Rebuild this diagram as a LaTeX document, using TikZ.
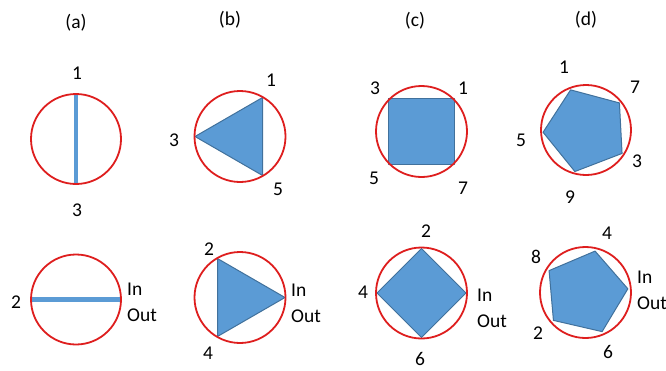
\documentclass[tikz,border=0pt]{standalone}
\usepackage{fontspec}
\setmainfont{Carlito}
\definecolor{cred}{RGB}{222,30,30}
\definecolor{cblue}{RGB}{91,155,213}
\definecolor{cedge}{RGB}{65,113,156}
\begin{document}
\begin{tikzpicture}[x=1pt,y=-1pt,
  ring/.style={draw=cred,line width=1.8pt},
  poly/.style={fill=cblue,draw=cedge,line width=1pt,line join=round},
  bar/.style={draw=cblue,line width=4.5pt},
  lbl/.style={font=\fontsize{19.5}{26}\selectfont,inner sep=0pt},
  io/.style={lbl,align=left,anchor=west}]
\useasboundingbox (0,0) rectangle (666,370);

% titles
\node[lbl] (ta) at (76,23) {(a)};
\node[lbl] (tb) at (230,20) {(b)};
\node[lbl] (tc) at (415,21) {(c)};
\node[lbl] (td) at (586,20) {(d)};

% (a) top
\coordinate (a1c) at (76,139);
\draw[bar] (76,95) -- (76,184);
\draw[ring] (a1c) circle[radius=45pt];
\node[lbl] (a1l1) at (77,73) {1};
\node[lbl] (a1l3) at (77,210) {3};

% (a) bottom
\coordinate (a2c) at (76,299.5);
\draw[bar] (31,299.5) -- (121,299.5);
\draw[ring] (a2c) circle[radius=45pt];
\node[lbl] (a2l2) at (16,302) {2};
\node[io] (a2io) at (127,302) {In\\Out};

% (b) top
\coordinate (b1c) at (240,136.5);
\draw[poly] ([shift={(b1c)}]60:45pt) -- ([shift={(b1c)}]180:45pt) -- ([shift={(b1c)}]300:45pt) -- cycle;
\draw[ring] (b1c) circle[radius=45.5pt];
\node[lbl] (b1l1) at (271,80) {1};
\node[lbl] (b1l3) at (174,140) {3};
\node[lbl] (b1l5) at (278,189) {5};

% (b) bottom
\coordinate (b2c) at (240,297.5);
\draw[poly] ([shift={(b2c)}]0:45pt) -- ([shift={(b2c)}]120:45pt) -- ([shift={(b2c)}]240:45pt) -- cycle;
\draw[ring] (b2c) circle[radius=45.5pt];
\node[lbl] (b2l2) at (209,249) {2};
\node[lbl] (b2l4) at (208,353) {4};
\node[io] (b2io) at (291,303) {In\\Out};

% (c) top
\coordinate (c1c) at (421.5,131.5);
\draw[poly] ([shift={(c1c)}]45:46pt) -- ([shift={(c1c)}]135:46pt) -- ([shift={(c1c)}]225:46pt) -- ([shift={(c1c)}]315:46pt) -- cycle;
\draw[ring] (c1c) circle[radius=45.5pt];
\node[lbl] (c1l3) at (375,88) {3};
\node[lbl] (c1l1) at (463,88) {1};
\node[lbl] (c1l5) at (374,178) {5};
\node[lbl] (c1l7) at (463,188) {7};

% (c) bottom
\coordinate (c2c) at (421.5,293);
\draw[poly] ([shift={(c2c)}]0:44.5pt) -- ([shift={(c2c)}]90:44.5pt) -- ([shift={(c2c)}]180:44.5pt) -- ([shift={(c2c)}]270:44.5pt) -- cycle;
\draw[ring] (c2c) circle[radius=45.5pt];
\node[lbl] (c2l2) at (426,231) {2};
\node[lbl] (c2l4) at (363,292) {4};
\node[lbl] (c2l6) at (420,359) {6};
\node[io] (c2io) at (477,308) {In\\Out};

% (d) top
\coordinate (d1c) at (586,130);
\draw[poly] ([shift={(d1c)}]111:43pt) -- ([shift={(d1c)}]39:43pt) -- ([shift={(d1c)}]-33:43pt) -- ([shift={(d1c)}]-105:43pt) -- ([shift={(d1c)}]-177:43pt) -- cycle;
\draw[ring] (d1c) circle[radius=45pt];
\node[lbl] (d1l1) at (564,67) {1};
\node[lbl] (d1l7) at (635,87) {7};
\node[lbl] (d1l3) at (637,161) {3};
\node[lbl] (d1l5) at (521,140) {5};
\node[lbl] (d1l9) at (570,197) {9};

% (d) bottom
\coordinate (d2c) at (585.5,292.5);
\draw[poly] ([shift={(d2c)}]77:42.5pt) -- ([shift={(d2c)}]5:42.5pt) -- ([shift={(d2c)}]-67:42.5pt) -- ([shift={(d2c)}]-139:42.5pt) -- ([shift={(d2c)}]-211:42.5pt) -- cycle;
\draw[ring] (d2c) circle[radius=45.5pt];
\node[lbl] (d2l4) at (607,233) {4};
\node[lbl] (d2l8) at (536,257) {8};
\node[lbl] (d2l2) at (538,333) {2};
\node[lbl] (d2l6) at (608,352) {6};
\node[io] (d2io) at (637,290) {In\\Out};
\end{tikzpicture}
\end{document}
